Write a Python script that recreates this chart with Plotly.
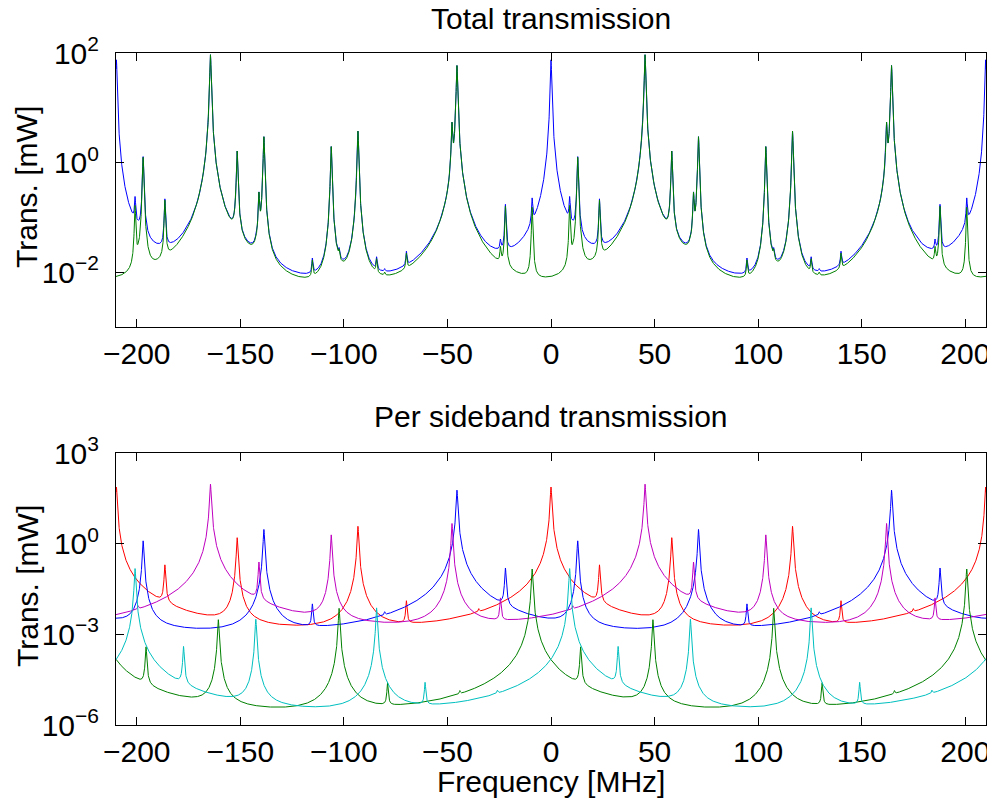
import numpy as np
import plotly.graph_objects as go
from plotly.subplots import make_subplots

# ---------------- data ----------------
freq_range_mhz = [-210.0, 210.0]
freq_step_mhz = 0.05
fsr_mhz = 209.8                  # spacing of the main resonances
finesse_coeff = 5.5e4            # peak / floor ratio of a single resonance
mode_spacing_mhz = 58.3          # spacing of transverse-mode resonances
# relative height of transverse-mode resonances (order 0..6)
mode_rel_height = [1.0, 0.021, 0.05, 2e-5, 0.0025, 0.0, 0.00014]

sideband_names = ["carrier", "+1st", "-1st", "+2nd", "-2nd"]
sideband_offset_mhz = [0.0, -45.4, 45.4, -9.1, 9.0]
sideband_peak_mw = [75.0, 59.0, 93.0, 0.145, 0.15]
sideband_colors = ["rgb(255,0,0)", "rgb(0,0,255)", "rgb(191,0,191)",
                   "rgb(0,128,0)", "rgb(0,191,191)"]

x_tick_vals = [-200, -150, -100, -50, 0, 50, 100, 150, 200]
x_tick_text = ["\u2212200", "\u2212150", "\u2212100", "\u221250", "0", "50", "100", "150", "200"]
top_y_tick_vals = [1e-2, 1e0, 1e2]
top_y_tick_text = ["10<sup>\u22122</sup>", "10<sup>0</sup>", "10<sup>2</sup>"]
bot_y_tick_vals = [1e-6, 1e-3, 1e0, 1e3]
bot_y_tick_text = ["10<sup>\u22126</sup>", "10<sup>\u22123</sup>", "10<sup>0</sup>", "10<sup>3</sup>"]
top_y_range = [-3, 2]
bot_y_range = [-6, 3]

# ---------------- build spectra ----------------
freq = np.arange(freq_range_mhz[0], freq_range_mhz[1] + freq_step_mhz / 2, freq_step_mhz)


def resonance(f, center, height):
    return height / (1.0 + finesse_coeff * np.sin(np.pi * (f - center) / fsr_mhz) ** 2)


per_sideband = []
carrier_fundamental = None
for i, (off, pk) in enumerate(zip(sideband_offset_mhz, sideband_peak_mw)):
    y = np.zeros_like(freq)
    for m, rel in enumerate(mode_rel_height):
        if rel > 0:
            r = resonance(freq, off + m * mode_spacing_mhz, pk * rel)
            y += r
            if i == 0 and m == 0:
                carrier_fundamental = r
    per_sideband.append(y)

total_all = np.sum(per_sideband, axis=0)
total_without_carrier00 = total_all - carrier_fundamental

# ---------------- figure ----------------
FONT = "Liberation Sans, Arial, Helvetica, sans-serif"
fig = make_subplots(rows=2, cols=1)

fig.add_trace(go.Scatter(x=freq, y=total_all, mode="lines",
                         line=dict(color="rgb(0,0,255)", width=1), name="total"),
              row=1, col=1)
fig.add_trace(go.Scatter(x=freq, y=total_without_carrier00, mode="lines",
                         line=dict(color="rgb(0,128,0)", width=1), name="non-carrier"),
              row=1, col=1)
for y, c, n in zip(per_sideband, sideband_colors, sideband_names):
    fig.add_trace(go.Scatter(x=freq, y=y, mode="lines", line=dict(color=c, width=1), name=n),
                  row=2, col=1)

axis_common = dict(showline=True, linecolor="black", linewidth=1, mirror="ticks",
                   ticks="inside", ticklen=8, tickcolor="black", tickwidth=1,
                   showgrid=False, zeroline=False, automargin=False,
                   tickfont=dict(family=FONT, size=30, color="black"))

fig.update_xaxes(range=freq_range_mhz, tickvals=x_tick_vals, ticktext=x_tick_text,
                 ticklabelstandoff=0, **axis_common)
fig.update_yaxes(type="log", ticklabelstandoff=10, **axis_common)
fig.update_yaxes(range=top_y_range, tickvals=top_y_tick_vals, ticktext=top_y_tick_text, row=1, col=1)
fig.update_yaxes(range=bot_y_range, tickvals=bot_y_tick_vals, ticktext=bot_y_tick_text, row=2, col=1)

# page pixel layout of the reference (the html body adds an 8 px offset)
PAGE_OFFSET = 8
fig_w, fig_h = 995 - PAGE_OFFSET, 801 - PAGE_OFFSET
plot_l, plot_r, plot_t, plot_b = 116, 986, 53, 725      # page pixels
top_panel_bottom, bottom_panel_top = 327, 453           # page pixels

fl, fr = plot_l - PAGE_OFFSET, plot_r - PAGE_OFFSET
ft, fb = plot_t - PAGE_OFFSET, plot_b - PAGE_OFFSET
ph = fb - ft


def px_x(px):
    return (px - plot_l) / (plot_r - plot_l)


def px_y(py):
    return (plot_b - py) / (plot_b - plot_t)


fig.update_layout(
    xaxis=dict(domain=[0, 1]), xaxis2=dict(domain=[0, 1]),
    yaxis=dict(domain=[px_y(top_panel_bottom), 1.0]),
    yaxis2=dict(domain=[0.0, px_y(bottom_panel_top)]),
)

ann_font = dict(family=FONT, size=30, color="black")
ann_texts = ["Total transmission", "Per sideband transmission", "Frequency [MHz]",
             "Trans. [mW]", "Trans. [mW]"]
ann_pos = [(551, 19), (551, 416), (551, 781), (27, 187), (27, 586)]
ann_angle = [0, 0, 0, -90, -90]
annotations = []
for t, (px, py), ang in zip(ann_texts, ann_pos, ann_angle):
    annotations.append(dict(text=t, x=px_x(px), y=px_y(py), xref="paper", yref="paper",
                            xanchor="center", yanchor="middle", textangle=ang,
                            showarrow=False, font=ann_font))

fig.update_layout(
    width=fig_w, height=fig_h,
    margin=dict(l=fl, r=fig_w - fr, t=ft, b=fig_h - fb, autoexpand=False),
    paper_bgcolor="white", plot_bgcolor="white",
    showlegend=False,
    annotations=annotations,
)

fig.write_html("out.html")
